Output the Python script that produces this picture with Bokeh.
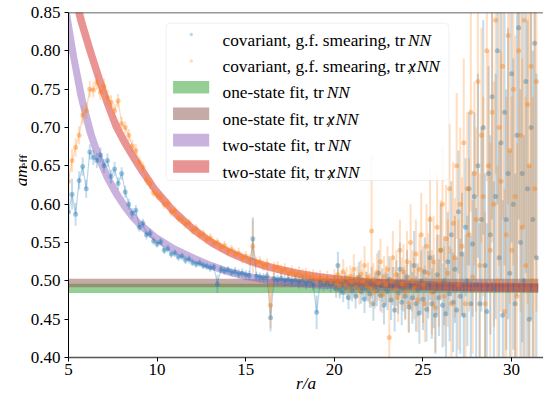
import numpy as np
from bokeh.plotting import figure
from bokeh.layouts import row
from bokeh.models import Label, Range1d, FixedTicker, Span, BoxAnnotation, PrintfTickFormatter
from bokeh.core.properties import value
from bokeh.embed import file_html
from bokeh.resources import INLINE

# ---------------- data ----------------
r_low = np.round(np.arange(5.0, 19.9, 0.2), 1)    # 5.0 .. 19.8
r_high = np.round(np.arange(20.0, 31.45, 0.1), 1)  # 20.0 .. 31.4
r = np.concatenate([r_low, r_high])

m_trNN = [
    0.590, 0.613, 0.587, 0.631, 0.649, 0.620, 0.668, 0.661, 0.657, 0.664,
    0.650, 0.657, 0.636, 0.646, 0.627, 0.640, 0.616, 0.600, 0.588, 0.592,
    0.570, 0.575, 0.560, 0.562, 0.552, 0.548, 0.551, 0.540, 0.542, 0.535,
    0.536, 0.531, 0.532, 0.527, 0.528, 0.524, 0.522, 0.523, 0.520, 0.519,
    0.517, 0.518, 0.496, 0.515, 0.513, 0.514, 0.511, 0.512, 0.509, 0.510,
    0.508, 0.507, 0.555, 0.506, 0.505, 0.504, 0.506, 0.452, 0.503, 0.501,
    0.503, 0.500, 0.502, 0.499, 0.501, 0.498, 0.500, 0.497, 0.499, 0.496,
    0.459, 0.498, 0.495, 0.497, 0.494,
    0.497, 0.490, 0.520, 0.488, 0.494, 0.485, 0.499, 0.491, 0.478, 0.493,
    0.487, 0.496, 0.480, 0.492, 0.505, 0.486, 0.490, 0.476, 0.495, 0.489,
    0.483, 0.498, 0.470, 0.492, 0.487, 0.510, 0.481, 0.494, 0.468, 0.490,
    0.486, 0.502, 0.475, 0.493, 0.462, 0.497, 0.484, 0.515, 0.472, 0.489,
    0.480, 0.505, 0.466, 0.494, 0.478, 0.520, 0.470, 0.488, 0.458, 0.500,
    0.476, 0.512, 0.463, 0.495, 0.530, 0.470, 0.486, 0.455, 0.508, 0.478,
    0.540, 0.468, 0.500, 0.457, 0.525, 0.483, 0.560, 0.472, 0.515, 0.462,
    0.590, 0.480, 0.535, 0.455, 0.570, 0.500, 0.620, 0.470, 0.548, 0.610,
    0.495, 0.650, 0.470, 0.580, 0.700, 0.520, 0.460, 0.640, 0.560, 0.740,
    0.490, 0.610, 0.800, 0.530, 0.680, 0.455, 0.720, 0.580, 0.640, 0.510,
    0.770, 0.600, 0.470, 0.690, 0.830, 0.550, 0.640, 0.500, 0.760, 0.620,
    0.450, 0.700, 0.580, 0.810, 0.530,
]
e_trNN = [
    0.025, 0.020, 0.015, 0.012, 0.012, 0.012, 0.010, 0.010, 0.010, 0.010,
    0.009, 0.009, 0.009, 0.009, 0.008, 0.008, 0.008, 0.007, 0.007, 0.007,
    0.006, 0.006, 0.006, 0.006, 0.005, 0.005, 0.005, 0.005, 0.005, 0.005,
    0.005, 0.005, 0.005, 0.005, 0.005, 0.005, 0.005, 0.005, 0.005, 0.005,
    0.005, 0.005, 0.012, 0.005, 0.005, 0.005, 0.005, 0.006, 0.006, 0.006,
    0.006, 0.006, 0.028, 0.006, 0.006, 0.006, 0.006, 0.018, 0.007, 0.007,
    0.007, 0.007, 0.007, 0.007, 0.007, 0.008, 0.008, 0.008, 0.008, 0.008,
    0.022, 0.009, 0.009, 0.009, 0.009,
    0.010, 0.012, 0.018, 0.011, 0.012, 0.013, 0.012, 0.014, 0.015, 0.013,
    0.014, 0.015, 0.016, 0.014, 0.020, 0.016, 0.015, 0.018, 0.017, 0.016,
    0.018, 0.020, 0.022, 0.019, 0.020, 0.030, 0.021, 0.022, 0.025, 0.022,
    0.024, 0.030, 0.026, 0.025, 0.028, 0.030, 0.027, 0.035, 0.030, 0.029,
    0.030, 0.035, 0.033, 0.032, 0.034, 0.045, 0.036, 0.035, 0.040, 0.040,
    0.040, 0.045, 0.042, 0.044, 0.055, 0.046, 0.048, 0.050, 0.052, 0.050,
    0.060, 0.055, 0.058, 0.060, 0.065, 0.062, 0.070, 0.065, 0.070, 0.068,
    0.080, 0.075, 0.080, 0.078, 0.090, 0.085, 0.100, 0.088, 0.095, 0.110,
    0.100, 0.120, 0.105, 0.120, 0.140, 0.120, 0.115, 0.140, 0.130, 0.160,
    0.140, 0.160, 0.200, 0.150, 0.180, 0.150, 0.200, 0.170, 0.190, 0.160,
    0.220, 0.190, 0.170, 0.210, 0.250, 0.200, 0.220, 0.190, 0.250, 0.220,
    0.200, 0.250, 0.220, 0.280, 0.240,
]
m_trxNN = [
    0.630, 0.657, 0.674, 0.690, 0.716, 0.722, 0.750, 0.749, 0.759, 0.746,
    0.754, 0.739, 0.733, 0.722, 0.735, 0.705, 0.700, 0.690, 0.676, 0.670,
    0.655, 0.648, 0.632, 0.627, 0.615, 0.612, 0.609, 0.600, 0.601, 0.590,
    0.591, 0.582, 0.580, 0.574, 0.575, 0.566, 0.568, 0.560, 0.561, 0.554,
    0.556, 0.549, 0.550, 0.544, 0.546, 0.539, 0.541, 0.535, 0.536, 0.530,
    0.532, 0.527, 0.545, 0.524, 0.525, 0.520, 0.522, 0.468, 0.517, 0.518,
    0.513, 0.515, 0.510, 0.512, 0.508, 0.510, 0.506, 0.508, 0.504, 0.506,
    0.502, 0.504, 0.500, 0.503, 0.499,
    0.503, 0.497, 0.508, 0.494, 0.501, 0.512, 0.495, 0.504, 0.490, 0.506,
    0.498, 0.515, 0.492, 0.503, 0.487, 0.509, 0.499, 0.520, 0.494, 0.505,
    0.490, 0.565, 0.502, 0.486, 0.511, 0.497, 0.525, 0.482, 0.506, 0.495,
    0.515, 0.426, 0.500, 0.530, 0.488, 0.508, 0.478, 0.540, 0.496, 0.512,
    0.485, 0.525, 0.470, 0.550, 0.500, 0.490, 0.535, 0.475, 0.515, 0.560,
    0.495, 0.470, 0.545, 0.510, 0.580, 0.485, 0.525, 0.465, 0.570, 0.500,
    0.540, 0.600, 0.480, 0.555, 0.510, 0.620, 0.470, 0.575, 0.530, 0.650,
    0.495, 0.600, 0.545, 0.680, 0.470, 0.620, 0.560, 0.720, 0.505, 0.640,
    0.580, 0.760, 0.520, 0.690, 0.610, 0.470, 0.800, 0.650, 0.540, 0.720,
    0.600, 0.840, 0.500, 0.700, 0.630, 0.780, 0.460, 0.560, 0.820, 0.670,
    0.540, 0.750, 0.610, 0.480, 0.800, 0.690, 0.570, 0.840, 0.520, 0.730,
    0.650, 0.780, 0.500, 0.620, 0.760,
]
e_trxNN = [
    0.020, 0.015, 0.012, 0.012, 0.012, 0.011, 0.011, 0.010, 0.010, 0.010,
    0.010, 0.010, 0.009, 0.009, 0.009, 0.009, 0.008, 0.008, 0.008, 0.008,
    0.007, 0.007, 0.007, 0.007, 0.006, 0.006, 0.006, 0.006, 0.006, 0.006,
    0.006, 0.006, 0.006, 0.006, 0.006, 0.006, 0.006, 0.006, 0.006, 0.006,
    0.006, 0.006, 0.006, 0.006, 0.006, 0.006, 0.006, 0.007, 0.007, 0.007,
    0.007, 0.007, 0.035, 0.007, 0.007, 0.007, 0.007, 0.030, 0.008, 0.008,
    0.008, 0.008, 0.008, 0.008, 0.008, 0.009, 0.009, 0.009, 0.009, 0.009,
    0.010, 0.010, 0.010, 0.010, 0.010,
    0.012, 0.013, 0.014, 0.013, 0.012, 0.016, 0.013, 0.014, 0.015, 0.014,
    0.015, 0.020, 0.016, 0.016, 0.018, 0.018, 0.017, 0.025, 0.018, 0.019,
    0.020, 0.100, 0.021, 0.022, 0.025, 0.023, 0.030, 0.024, 0.026, 0.025,
    0.030, 0.060, 0.028, 0.035, 0.030, 0.032, 0.032, 0.040, 0.034, 0.036,
    0.036, 0.040, 0.038, 0.050, 0.040, 0.040, 0.045, 0.042, 0.045, 0.055,
    0.050, 0.050, 0.055, 0.052, 0.065, 0.055, 0.060, 0.058, 0.070, 0.060,
    0.065, 0.075, 0.065, 0.070, 0.070, 0.085, 0.072, 0.080, 0.078, 0.095,
    0.085, 0.100, 0.090, 0.110, 0.090, 0.100, 0.100, 0.130, 0.100, 0.120,
    0.120, 0.150, 0.120, 0.140, 0.130, 0.120, 0.170, 0.150, 0.140, 0.170,
    0.160, 0.200, 0.150, 0.180, 0.170, 0.200, 0.160, 0.180, 0.220, 0.200,
    0.200, 0.230, 0.210, 0.200, 0.250, 0.230, 0.220, 0.270, 0.220, 0.260,
    0.250, 0.280, 0.240, 0.260, 0.300,
]

# fit results
fit_x = [5.0, 5.5, 6.0, 6.5, 7.0, 7.5, 8.0, 8.5, 9.0, 10.0, 11.0, 12.0, 13.0,
         14.0, 15.0, 16.0, 17.0, 18.0, 19.0, 20.0, 22.0, 24.0, 26.0, 28.0, 30.0, 31.5]
two_state_trNN = [0.832, 0.766, 0.714, 0.675, 0.645, 0.622, 0.603, 0.587, 0.574, 0.555,
                  0.541, 0.530, 0.520, 0.512, 0.506, 0.502, 0.499, 0.497, 0.495, 0.494,
                  0.4925, 0.492, 0.4915, 0.4912, 0.491, 0.491]
two_state_trNN_err = [0.029, 0.025, 0.0195, 0.015, 0.012, 0.010, 0.0088, 0.0078, 0.0068,
                      0.0059, 0.0055, 0.0053, 0.0052, 0.0051, 0.0050, 0.0050, 0.0050,
                      0.0050, 0.0050, 0.0050, 0.0050, 0.0050, 0.0050, 0.0050, 0.0050, 0.0050]
two_state_trxNN = [0.906, 0.858, 0.817, 0.780, 0.745, 0.712, 0.688, 0.668, 0.649, 0.615,
                   0.589, 0.568, 0.551, 0.538, 0.528, 0.520, 0.514, 0.509, 0.505, 0.502,
                   0.4975, 0.495, 0.493, 0.492, 0.4915, 0.491]
two_state_trxNN_err = [0.0216, 0.0196, 0.0172, 0.016, 0.0151, 0.0126, 0.0105, 0.0096, 0.009,
                       0.008, 0.0069, 0.0063, 0.0058, 0.0055, 0.0053, 0.0052, 0.0052, 0.0053,
                       0.0054, 0.0055, 0.0056, 0.0057, 0.0058, 0.0059, 0.006, 0.006]
one_state_range = [5.0, 31.5]
one_state_trNN = 0.4901
one_state_trNN_err = 0.0061
one_state_trxNN = 0.4972
one_state_trxNN_err = 0.0055

x_ticks = [5, 10, 15, 20, 25, 30]
y_ticks = [0.40, 0.45, 0.50, 0.55, 0.60, 0.65, 0.70, 0.75, 0.80, 0.85]

# ---------------- styling ----------------
BLUE, ORANGE = "#1f77b4", "#ff7f0e"
GREEN, BROWN, PURPLE, RED = "#2ca02c", "#8c564b", "#9467bd", "#d62728"
FONT = "Liberation Serif"
H = 401
YLAB_W = 27

p = figure(width=543 - YLAB_W, height=H, x_range=Range1d(5, 31.8), y_range=Range1d(0.40, 0.85),
           output_backend="svg", toolbar_location=None,
           min_border_left=66 - YLAB_W, min_border_right=0, min_border_top=12, min_border_bottom=44)
p.outline_line_color = None
p.grid.visible = False
p.background_fill_color = "white"

for ax in (p.xaxis[0], p.yaxis[0]):
    ax.major_label_text_font = FONT
    ax.major_label_text_font_size = "17px"
    ax.major_label_text_color = "black"
    ax.major_tick_in = 0
    ax.major_tick_out = 4
    ax.minor_tick_line_color = None
    ax.major_tick_line_color = "black"
p.xaxis.ticker = FixedTicker(ticks=x_ticks)
p.yaxis.ticker = FixedTicker(ticks=y_ticks)
p.yaxis.formatter = PrintfTickFormatter(format="%.2f")
p.xaxis.major_label_standoff = 2
p.yaxis.major_label_standoff = 4
p.yaxis.axis_line_color = "black"
p.xaxis.axis_line_color = "#555555"
p.xaxis.axis_line_width = 1.5
p.xaxis.axis_label = "r/a"
p.xaxis.axis_label_text_font = FONT
p.xaxis.axis_label_text_font_size = "17.3px"
p.xaxis.axis_label_text_font_style = "italic"
p.xaxis.axis_label_text_color = "black"
p.xaxis.axis_label_standoff = -4
p.add_layout(Span(location=0.85, dimension="width", line_color="#333333", line_width=1.5))

# fit bands
fx = np.array(fit_x)
p.varea(x=one_state_range, y1=[one_state_trNN - one_state_trNN_err] * 2,
        y2=[one_state_trNN + one_state_trNN_err] * 2, fill_color=GREEN, fill_alpha=0.5)
p.varea(x=one_state_range, y1=[one_state_trxNN - one_state_trxNN_err] * 2,
        y2=[one_state_trxNN + one_state_trxNN_err] * 2, fill_color=BROWN, fill_alpha=0.5)
pc, pe = np.array(two_state_trNN), np.array(two_state_trNN_err)
p.varea(x=fx, y1=pc - pe, y2=pc + pe, fill_color=PURPLE, fill_alpha=0.5)
rc, re_ = np.array(two_state_trxNN), np.array(two_state_trxNN_err)
p.varea(x=fx, y1=rc - re_, y2=rc + re_, fill_color=RED, fill_alpha=0.5)

# data
n_low = len(r_low)
for m, e, col in ((m_trNN, e_trNN, BLUE), (m_trxNN, e_trxNN, ORANGE)):
    m = np.array(m)
    e = np.array(e)
    p.segment(x0=r, y0=m - e, x1=r, y1=m + e, line_color=col, line_alpha=0.26, line_width=2)
    p.line(r[:n_low], m[:n_low], line_color=col, line_alpha=0.3, line_width=1.2)
    p.scatter(r, m, size=5, fill_color=col, fill_alpha=0.4, line_color=col, line_alpha=0.0)


# ---------------- legend (drawn by hand) ----------------
def X(px):
    return 5 + (px - 66) / 17.8


def Y(py):
    return 0.85 - (py - 12) * 0.45 / 345.0


p.add_layout(BoxAnnotation(left=X(164), right=X(448), top=Y(22.7), bottom=Y(180),
                           fill_color="white", fill_alpha=0.85, line_color="#d0d0d0",
                           line_width=1, border_radius=4))
LFS = "17.3px"
rows = [
    ("covariant, g.f. smearing, tr", False, 407.0, ("dot", BLUE)),
    ("covariant, g.f. smearing, tr", True, 407.0, ("dot", ORANGE)),
    ("one-state fit, tr", False, 325.3, ("box", GREEN)),
    ("one-state fit, tr", True, 325.3, ("box", BROWN)),
    ("two-state fit, tr", False, 326.2, ("box", PURPLE)),
    ("two-state fit, tr", True, 326.2, ("box", RED)),
]
for i, (txt, slashed, nn_px, (kind, col)) in enumerate(rows):
    base = 39.5 + 26.4 * i
    mid = base - 5.5
    if kind == "dot":
        p.add_layout(BoxAnnotation(left=X(187.6), right=X(191), top=Y(mid - 1.7), bottom=Y(mid + 1.7),
                                   fill_color=col, fill_alpha=0.3, line_color=None, border_radius=2))
    else:
        p.add_layout(BoxAnnotation(left=X(171), right=X(207.3), top=Y(mid - 6.3), bottom=Y(mid + 6.3),
                                   fill_color=col, fill_alpha=0.5, line_color=None))
    p.add_layout(Label(x=X(220.7), y=Y(base), text=txt, text_font=FONT, text_font_size=LFS,
                       text_baseline="alphabetic", text_color="black"))
    xpos = nn_px
    if slashed:
        p.add_layout(Label(x=X(xpos), y=Y(base), text="x", text_font=FONT, text_font_size=LFS,
                           text_font_style="italic", text_baseline="alphabetic", text_color="black"))
        p.add_layout(Label(x=X(xpos + 1.5), y=Y(base + 2), text="/", text_font=FONT, text_font_size=LFS,
                           text_font_style="italic", text_baseline="alphabetic", text_color="black"))
        xpos += 8.8
    p.add_layout(Label(x=X(xpos), y=Y(base), text="NN", text_font=FONT, text_font_size=LFS,
                       text_font_style="italic", text_baseline="alphabetic", text_color="black"))

# ---------------- y-axis label in its own narrow panel ----------------
ylab = figure(width=YLAB_W, height=H, x_range=Range1d(0, YLAB_W), y_range=Range1d(0, H),
              output_backend="svg", toolbar_location=None,
              x_axis_location=None, y_axis_location=None,
              min_border_left=0, min_border_right=0, min_border_top=0, min_border_bottom=0)
ylab.grid.visible = False
ylab.outline_line_color = None
# page px -> panel data: x = px ; y = H - py
ylab.text(x=[20.5], y=[H - 202.0], text=["am"], angle=np.pi / 2, text_font=value(FONT),
          text_font_style="italic", text_font_size="17.3px", text_align="left",
          text_baseline="alphabetic", text_color="black")
ylab.text(x=[23.8], y=[H - 181.0], text=["eff"], angle=np.pi / 2, text_font=value(FONT),
          text_font_size="12.5px", text_align="left", text_baseline="alphabetic",
          text_color="black")

layout = row(ylab, p, spacing=0)
open("out.html", "w").write(file_html(layout, INLINE))
